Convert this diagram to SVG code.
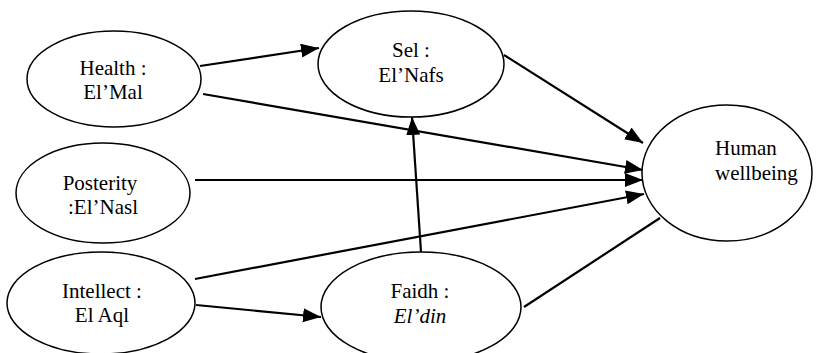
<svg xmlns="http://www.w3.org/2000/svg" width="819" height="353" viewBox="0 0 819 353">
<style>
.node ellipse{fill:#fff;stroke:#000;stroke-width:1.5}
.node text{font-family:'Liberation Serif',Tinos,'Times New Roman',Times,serif;font-size:21px;fill:#000;text-anchor:middle}
.conn line{stroke:#000;stroke-width:2.2}
</style>
<defs>
<marker id="ah" markerUnits="userSpaceOnUse" markerWidth="20" markerHeight="16" refX="18" refY="7" orient="auto">
<path d="M0,0 L18,7 L0,14 z" fill="#000"/>
</marker>
</defs>
<rect width="819" height="353" fill="#fff"/>
<g id="connectors" class="conn">
<line x1="200" y1="66" x2="319" y2="48" marker-end="url(#ah)"/>
<line x1="203" y1="94" x2="643" y2="170" marker-end="url(#ah)"/>
<line x1="504" y1="55" x2="643" y2="143" marker-end="url(#ah)"/>
<line x1="195" y1="180" x2="643" y2="180" marker-end="url(#ah)"/>
<line x1="195" y1="279" x2="644" y2="194" marker-end="url(#ah)"/>
<line x1="196" y1="305" x2="321" y2="317" marker-end="url(#ah)"/>
<line x1="421" y1="252" x2="412" y2="117" marker-end="url(#ah)"/>
<line x1="524" y1="307" x2="660" y2="218"/>
</g>
<g id="health" class="node">
<ellipse cx="114" cy="79" rx="87" ry="48"/>
<text x="113" y="75">Health :</text>
<text x="113" y="99">El’Mal</text>
</g>
<g id="sel" class="node">
<ellipse cx="411" cy="64" rx="93" ry="53"/>
<text x="411" y="57">Sel :</text>
<text x="411" y="82">El’Nafs</text>
</g>
<g id="posterity" class="node">
<ellipse cx="103" cy="193" rx="87" ry="50"/>
<text x="100" y="190">Posterity</text>
<text x="103" y="214">:El’Nasl</text>
</g>
<g id="intellect" class="node">
<ellipse cx="101" cy="303" rx="94" ry="51"/>
<text x="102" y="298">Intellect :</text>
<text x="102" y="322">El Aql</text>
</g>
<g id="faidh" class="node">
<ellipse cx="421" cy="307" rx="100" ry="55"/>
<text x="420" y="298">Faidh :</text>
<text x="420" y="323" font-style="italic">El’din</text>
</g>
<g id="human" class="node">
<ellipse cx="727" cy="173" rx="85" ry="68"/>
<text x="715" y="155" style="text-anchor:start">Human</text>
<text x="715" y="180" style="text-anchor:start">wellbeing</text>
</g>
</svg>
